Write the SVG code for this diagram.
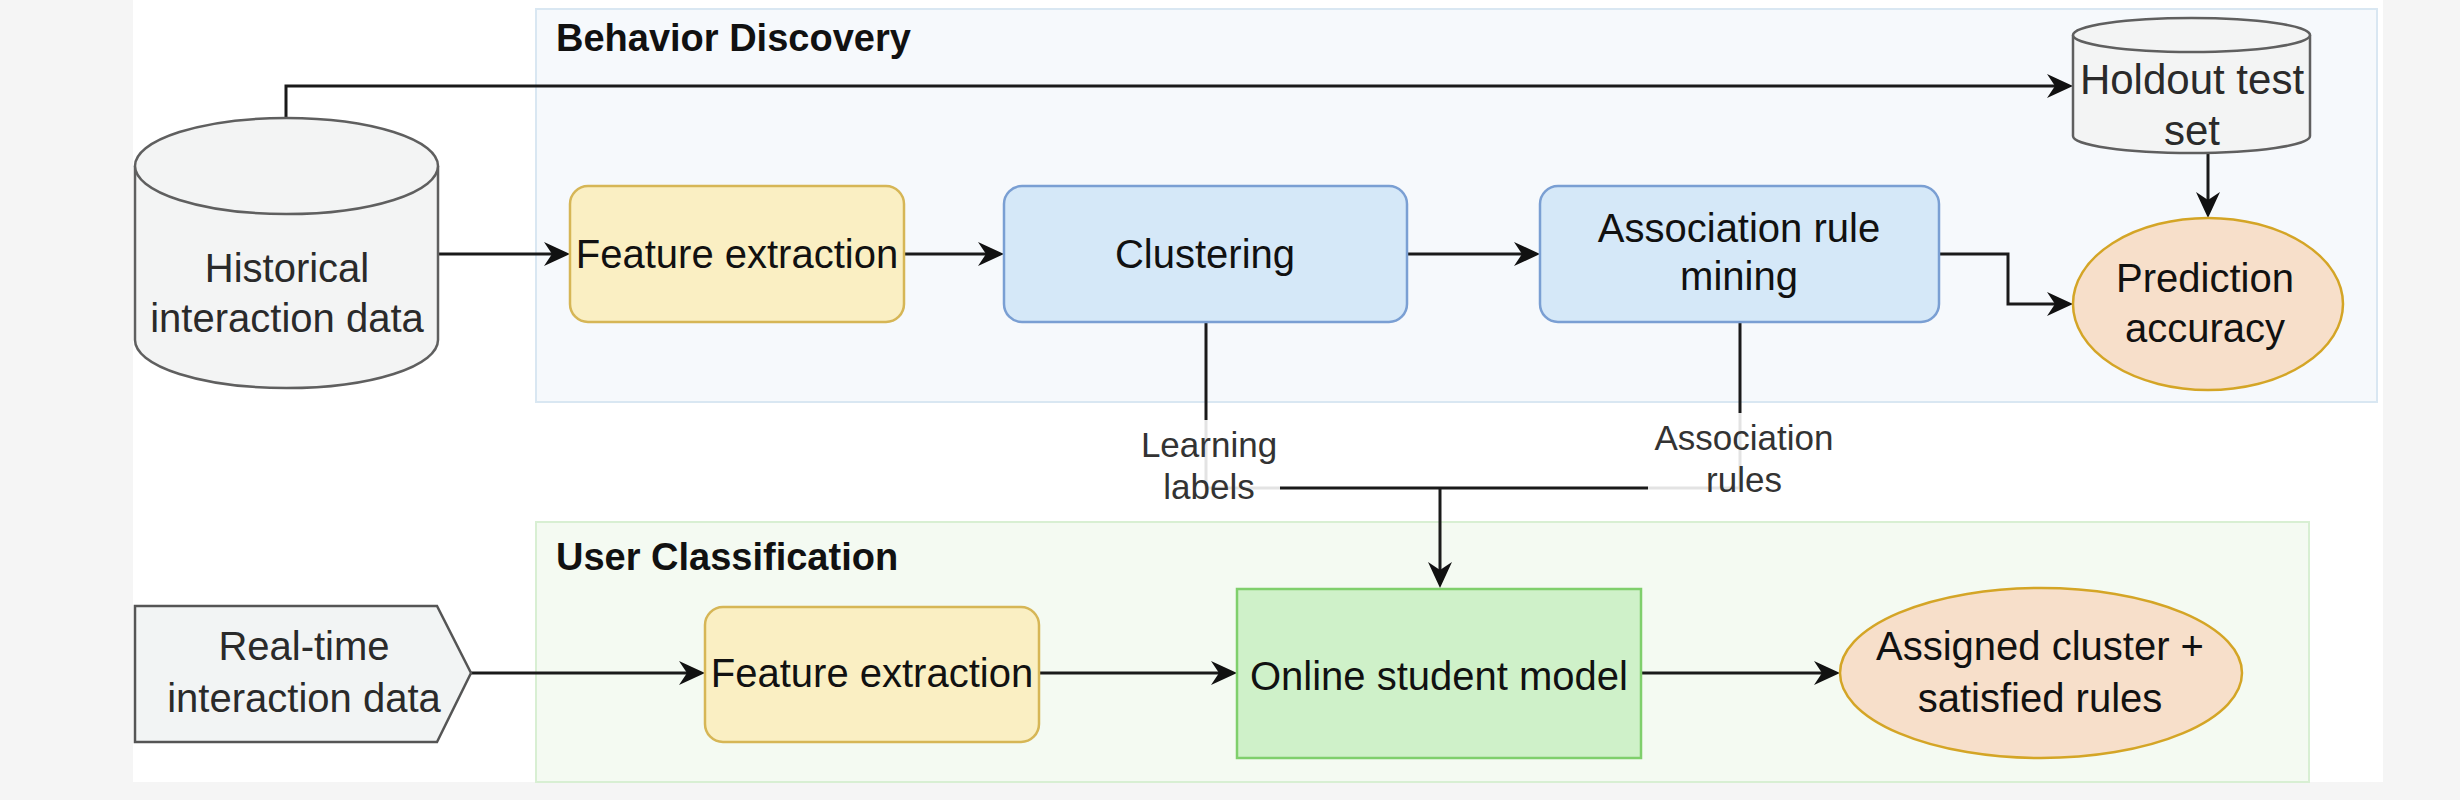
<svg xmlns="http://www.w3.org/2000/svg" width="2460" height="800" viewBox="0 0 2460 800">
<style>
  text { font-family: "Liberation Sans", Arial, sans-serif; }
  .t { font-size: 40px; fill: #111; text-anchor: middle; }
  .tg { font-size: 40px; fill: #2a2a2a; text-anchor: middle; }
  .lbl { font-size: 35px; fill: #333; text-anchor: middle; }
  .title { font-size: 38px; font-weight: bold; fill: #111; }
  .edge { fill: none; stroke: #1a1a1a; stroke-width: 3; }
  .arr { marker-end: url(#arrow); }
  .cyl { fill: #f3f4f4; stroke: #5f5f5f; stroke-width: 2.5; }
  .yellow { fill: #faefc3; stroke: #d6b656; stroke-width: 2.5; }
  .blue { fill: #d5e8f8; stroke: #7a9fd3; stroke-width: 2.5; }
  .green { fill: #cff1c9; stroke: #7fcf6c; stroke-width: 2.5; }
  .peach { fill: #f7dfca; stroke: #d4a526; stroke-width: 2.5; }
</style>
<defs>
  <marker id="arrow" viewBox="0 0 26 24" markerWidth="26" markerHeight="24" markerUnits="userSpaceOnUse" refX="20" refY="12" orient="auto">
    <path d="M0,0 L26,12 L0,24 L8,12 Z" fill="#111"/>
  </marker>
</defs>

<rect x="0" y="0" width="2460" height="800" fill="#f5f5f5"/>
<rect x="133" y="0" width="2250" height="782" fill="#ffffff"/>

<g id="behavior-discovery">
  <rect x="536" y="9" width="1841" height="393" fill="#f6f9fc" stroke="#d9e7f2" stroke-width="2"/>
  <text class="title" x="556" y="51">Behavior Discovery</text>
</g>

<g id="user-classification">
  <rect x="536" y="522" width="1773" height="260" fill="#f4faf2" stroke="#d8efd3" stroke-width="2"/>
  <text class="title" x="556" y="570">User Classification</text>
</g>

<g id="connectors">
  <path class="edge arr" d="M286,118 V86 H2067"/>
  <path class="edge arr" d="M438,254 H564"/>
  <path class="edge arr" d="M904,254 H998"/>
  <path class="edge arr" d="M1407,254 H1534"/>
  <path class="edge arr" d="M1939,254 H2008 V304 H2067"/>
  <path class="edge arr" d="M2208,153 V212"/>
  <path class="edge" d="M1206,322 V488 H1440"/>
  <path class="edge" d="M1740,322 V488 H1440"/>
  <path class="edge arr" d="M1440,488 V582"/>
  <path class="edge arr" d="M471,673 H699"/>
  <path class="edge arr" d="M1039,673 H1231"/>
  <path class="edge arr" d="M1641,673 H1834"/>
  <g id="label-learning-labels">
    <rect x="1140" y="420" width="140" height="88" fill="#ffffff" fill-opacity="0.88"/>
    <text class="lbl" x="1209" y="457">Learning</text>
    <text class="lbl" x="1209" y="499">labels</text>
  </g>
  <g id="label-association-rules">
    <rect x="1648" y="413" width="192" height="92" fill="#ffffff" fill-opacity="0.88"/>
    <text class="lbl" x="1744" y="450">Association</text>
    <text class="lbl" x="1744" y="492">rules</text>
  </g>
</g>

<g id="historical-data">
  <path class="cyl" d="M135,166 A151.5,48 0 0 1 438,166 V340 A151.5,48 0 0 1 135,340 Z"/>
  <path class="cyl" fill="none" d="M135,166 A151.5,48 0 0 0 438,166"/>
  <text class="tg" x="287" y="282">Historical</text>
  <text class="tg" x="287" y="332">interaction data</text>
</g>

<g id="feature-extraction-1">
  <rect class="yellow" x="570" y="186" width="334" height="136" rx="18" ry="18"/>
  <text class="t" x="737" y="268">Feature extraction</text>
</g>

<g id="clustering">
  <rect class="blue" x="1004" y="186" width="403" height="136" rx="18" ry="18"/>
  <text class="t" x="1205" y="268">Clustering</text>
</g>

<g id="association-rule-mining">
  <rect class="blue" x="1540" y="186" width="399" height="136" rx="18" ry="18"/>
  <text class="t" x="1739" y="242">Association rule</text>
  <text class="t" x="1739" y="290">mining</text>
</g>

<g id="holdout-test-set">
  <path class="cyl" d="M2073,35 A118.5,17 0 0 1 2310,35 V136 A118.5,17 0 0 1 2073,136 Z"/>
  <path class="cyl" fill="none" d="M2073,35 A118.5,17 0 0 0 2310,35"/>
  <text class="tg" x="2192" y="94" style="font-size:42px">Holdout test</text>
  <text class="tg" x="2192" y="145" style="font-size:42px">set</text>
</g>

<g id="prediction-accuracy">
  <ellipse class="peach" cx="2208" cy="304" rx="135" ry="86"/>
  <text class="t" x="2205" y="292">Prediction</text>
  <text class="t" x="2205" y="342">accuracy</text>
</g>

<g id="real-time-data">
  <path d="M135,606 H437 L471,673 L437,742 H135 Z" fill="#f2f4f4" stroke="#555" stroke-width="2.5"/>
  <text class="tg" x="304" y="660">Real-time</text>
  <text class="tg" x="304" y="712">interaction data</text>
</g>

<g id="feature-extraction-2">
  <rect class="yellow" x="705" y="607" width="334" height="135" rx="18" ry="18"/>
  <text class="t" x="872" y="687">Feature extraction</text>
</g>

<g id="online-student-model">
  <rect class="green" x="1237" y="589" width="404" height="169"/>
  <text class="t" x="1439" y="690">Online student model</text>
</g>

<g id="assigned-cluster">
  <ellipse class="peach" cx="2041" cy="673" rx="201" ry="85"/>
  <text class="t" x="2040" y="660">Assigned cluster +</text>
  <text class="t" x="2040" y="712">satisfied rules</text>
</g>
</svg>
